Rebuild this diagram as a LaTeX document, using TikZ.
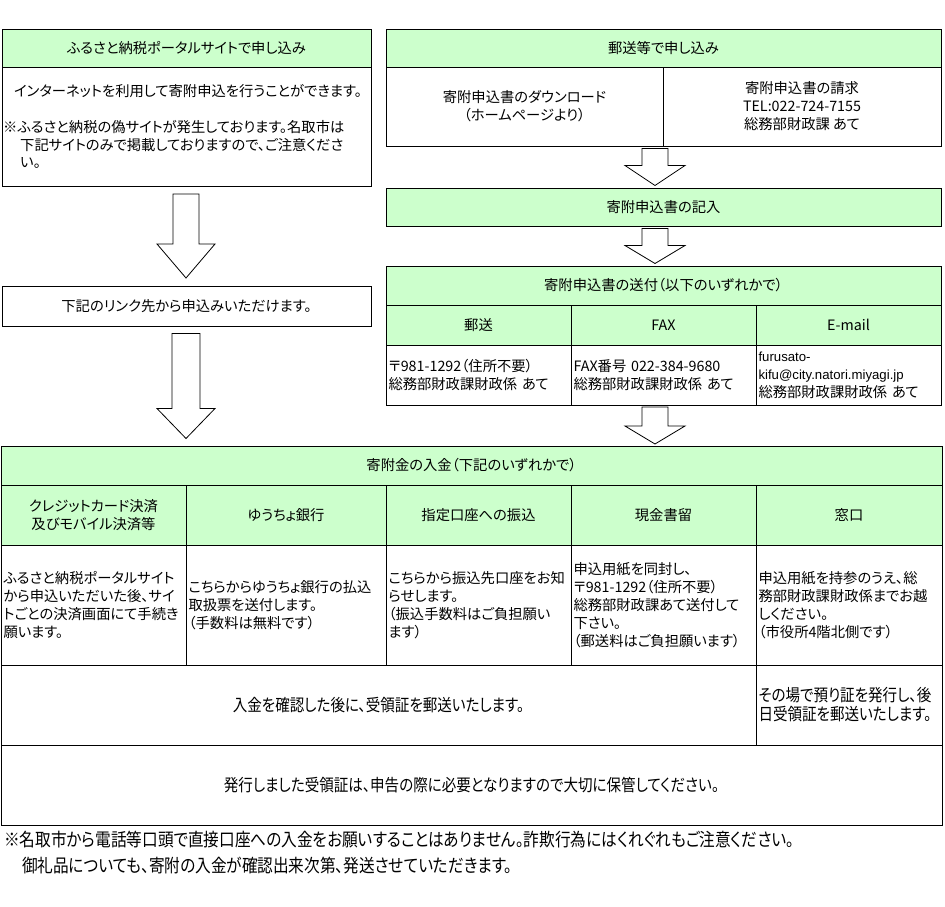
\documentclass[tikz,border=0pt]{standalone}
\usepackage{fontspec}
\usetikzlibrary{calc}
\newfontfamily\jp{Noto Sans CJK JP}[RawFeature={+palt}]
\newfontfamily\jpc{Noto Sans CJK JP}[RawFeature={+palt},FakeStretch=0.86]
\newfontfamily\mailfont{Liberation Sans}
\definecolor{hdrgreen}{HTML}{CCFFCC}
% hollow block arrow from one box down to the next
\newcommand{\hollowarrow}[7]{%
  \draw[hollow] let \p1=(#1.south), \p2=(#2.north) in
    ({(#3-#6)*1pt},{\y1-#4pt}) -- ({(#3-#6)*1pt},{\y2+#4pt+#5pt}) -- ({(#3-#7)*1pt},{\y2+#4pt+#5pt})
    -- ({#3*1pt},{\y2+#4pt}) -- ({(#3+#7)*1pt},{\y2+#4pt+#5pt}) -- ({(#3+#6)*1pt},{\y2+#4pt+#5pt})
    -- ({(#3+#6)*1pt},{\y1-#4pt}) -- cycle;}
\begin{document}
\begin{tikzpicture}[x=1pt,y=-1pt,
    box/.style={draw,line width=0.8pt,inner sep=0pt,outer sep=0pt,anchor=north west,align=center,
      font=\jp\fontsize{14.3}{18}\selectfont},
    size/.style 2 args={minimum width=#1pt,minimum height=#2pt},
    hdr/.style={box,fill=hdrgreen},
    txt/.style={box,align=left,inner xsep=2.5pt,text width=#1},
    plain/.style={inner sep=0pt,anchor=west,font=\jp\fontsize{14.3}{18}\selectfont},
    wide/.style={box,font=\jpc\fontsize{16.9}{19}\selectfont},
    hollow/.style={draw,line width=0.8pt,fill=white}]
    \fill[white] (0,0) rectangle (945,907);
    \useasboundingbox (0,0) rectangle (945,907);
    %% left column: portal site
    \node[hdr,size={369}{38}] (lhead) at (2,29) {ふるさと納税ポータルサイトで申し込み};
    \node[box,size={369}{119}] (lbody) at (2,67) {};
    \node[plain] (lline1) at (14,91) {インターネットを利用して寄附申込を行うことができます。};
    \node[plain] (lline2) at (3,127) {※ふるさと納税の偽サイトが発生しております。名取市は};
    \node[plain] (lline3) at (20,145) {下記サイトのみで掲載しておりますので、ご注意くださ};
    \node[plain] (lline4) at (20,163) {い。};
    \node[box,size={369}{40}] (lnote) at (2,286) {下記のリンク先から申込みいただけます。};
    %% right column: by post
    \node[hdr,size={555}{38}] (rhead) at (386,29) {郵送等で申し込み};
    \node[box,size={277}{79}] (rdl) at (386,67) {寄附申込書のダウンロード\\（ホームページより）};
    \node[box,size={278}{79}] (rreq) at (663,67) {寄附申込書の請求\\TEL:022-724-7155\\総務部財政課 あて};
    \node[hdr,size={555}{38}] (rfill) at (386,188) {寄附申込書の記入};
    \node[hdr,size={555}{39}] (rsend) at (386,266) {寄附申込書の送付（以下のいずれかで）};
    \node[hdr,size={185}{40}] (rpost) at (386,305) {郵送};
    \node[hdr,size={185}{40}] (rfax) at (571,305) {FAX};
    \node[hdr,size={185}{40}] (rmail) at (756,305) {E-mail};
    \node[txt=180pt,size={185}{60}] (rpostb) at (386,345) {〒981-1292（住所不要）\\総務部財政課財政係 あて};
    \node[txt=180pt,size={185}{60}] (rfaxb) at (571,345) {FAX番号 022-384-9680\\総務部財政課財政係 あて};
    \node[txt=180pt,size={185}{60}] (rmailb) at (756,345)
      {{\mailfont\fontsize{13.2}{18}\selectfont furusato-\\kifu@city.natori.miyagi.jp}\\総務部財政課財政係 あて};
    %% payment table
    \node[hdr,size={941}{39}] (thead) at (1,446) {寄附金の入金（下記のいずれかで）};
    \node[hdr,size={185}{60}] (tcard) at (1,485) {クレジットカード決済\\及びモバイル決済等};
    \node[hdr,size={200}{60}] (tbank) at (186,485) {ゆうちょ銀行};
    \node[hdr,size={185}{60}] (tacct) at (386,485) {指定口座への振込};
    \node[hdr,size={185}{60}] (tcash) at (571,485) {現金書留};
    \node[hdr,size={186}{60}] (twin) at (756,485) {窓口};
    \node[txt=180pt,size={185}{120}] (tcardb) at (1,545)
      {ふるさと納税ポータルサイト\\から申込いただいた後、サイ\\トごとの決済画面にて手続き\\願います。};
    \node[txt=195pt,size={200}{120}] (tbankb) at (186,545)
      {こちらからゆうちょ銀行の払込\\取扱票を送付します。\\（手数料は無料です）};
    \node[txt=180pt,size={185}{120}] (tacctb) at (386,545)
      {こちらから振込先口座をお知\\らせします。\\（振込手数料はご負担願い\\ます）};
    \node[txt=180pt,size={185}{120}] (tcashb) at (571,545)
      {申込用紙を同封し、\\〒981-1292（住所不要）\\総務部財政課あて送付して\\下さい。\\（郵送料はご負担願います）};
    \node[txt=181pt,size={186}{120}] (twinb) at (756,545)
      {申込用紙を持参のうえ、総\\務部財政課財政係までお越\\しください。\\（市役所4階北側です）};
    \node[wide,size={755}{80}] (trcpt) at (1,665) {入金を確認した後に、受領証を郵送いたします。};
    \node[wide,align=left,inner xsep=2.5pt,text width=181pt,size={186}{80}] (twinr) at (756,665)
      {その場で預り証を発行し、後\\日受領証を郵送いたします。};
    \node[wide,size={941}{80}] (tkeep) at (1,745) {発行しました受領証は、申告の際に必要となりますので大切に保管してください。};
    %% notes
    \node[plain,font=\jpc\fontsize{18.2}{20}\selectfont] (note1) at (4,840)
      {※名取市から電話等口頭で直接口座への入金をお願いすることはありません。詐欺行為にはくれぐれもご注意ください。};
    \node[plain,font=\jpc\fontsize{18.2}{20}\selectfont] (note2) at (22,866)
      {御礼品についても、寄附の入金が確認出来次第、発送させていただきます。};
    %% arrows
    \hollowarrow{lbody}{lnote}{186}{8}{34}{13}{29}
    \hollowarrow{lnote}{thead}{186}{7.5}{30}{14}{29}
    \hollowarrow{rdl}{rfill}{655}{2.5}{20}{13}{30}
    \hollowarrow{rfill}{rsend}{655}{2.5}{18}{13}{30}
    \hollowarrow{rpostb}{thead}{655}{2}{18}{13}{30}
\end{tikzpicture}
\end{document}
